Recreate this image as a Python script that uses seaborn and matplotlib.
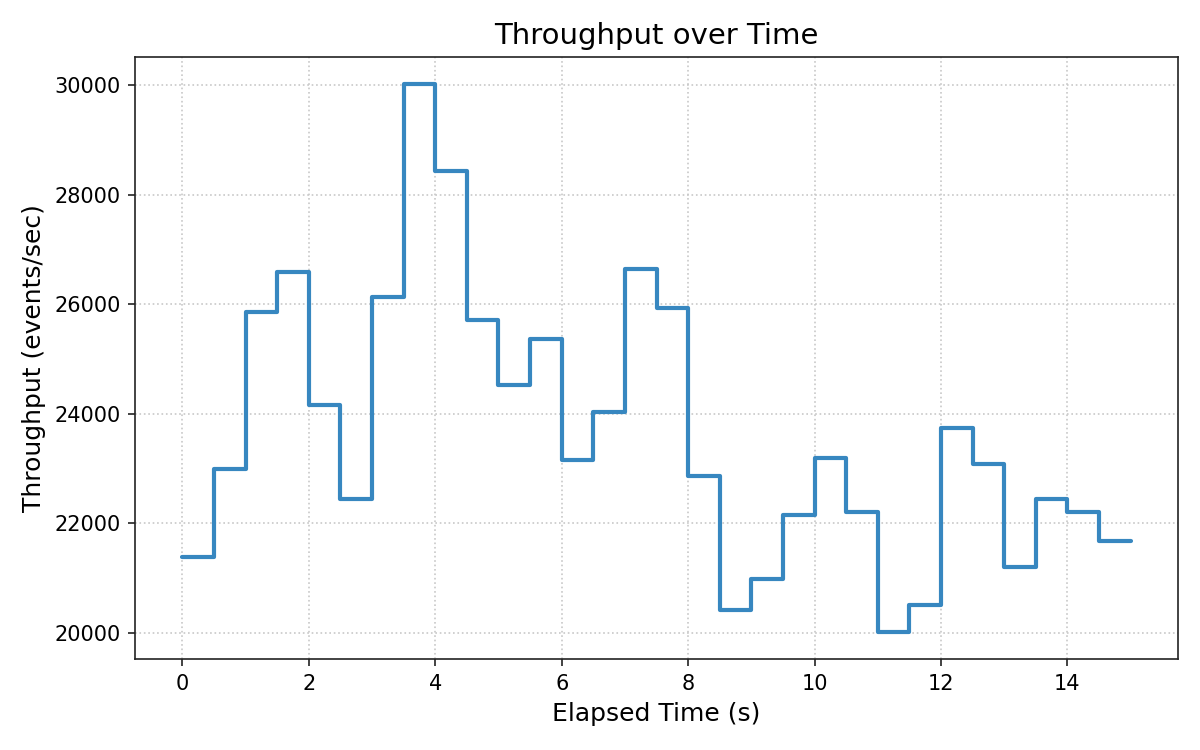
import numpy as np
import pandas as pd
import matplotlib
matplotlib.use("Agg")
import matplotlib.pyplot as plt
import seaborn as sns

# elapsed time in seconds (one sample every half second, last value held to 15 s)
elapsed_time = [0.0, 0.5, 1.0, 1.5, 2.0, 2.5, 3.0, 3.5, 4.0, 4.5,
                5.0, 5.5, 6.0, 6.5, 7.0, 7.5, 8.0, 8.5, 9.0, 9.5,
                10.0, 10.5, 11.0, 11.5, 12.0, 12.5, 13.0, 13.5, 14.0, 14.5, 15.0]

# throughput in events/sec
throughput = [21380, 23000, 25860, 26590, 24160, 22450, 26140, 30020, 28440, 25710,
              24520, 25370, 23150, 24030, 26650, 25930, 22860, 20420, 20990, 22160,
              23190, 22200, 20020, 20500, 23740, 23080, 21210, 22450, 22200, 21680, 21680]

x_ticks = [0, 2, 4, 6, 8, 10, 12, 14]

df = pd.DataFrame({"Elapsed Time (s)": elapsed_time,
                   "Throughput (events/sec)": throughput})

sns.set_theme(style="ticks")
plt.rcParams["font.family"] = ["DejaVu Sans"]
plt.rcParams["axes.edgecolor"] = "#222222"
plt.rcParams["axes.linewidth"] = 0.8

fig, ax = plt.subplots(figsize=(8, 5), dpi=150)

sns.lineplot(
    data=df,
    x="Elapsed Time (s)",
    y="Throughput (events/sec)",
    drawstyle="steps-post",
    color="#3787c0",
    linewidth=2,
    ax=ax)

ax.set_xticks(x_ticks)
ax.grid(True, linestyle=":", color="#c8c8c8", linewidth=0.8)
ax.tick_params(axis="both", labelsize=10, length=3.5, width=0.8, pad=3.5,
               colors="#222222", labelcolor="black")

ax.set_title("Throughput over Time", fontsize=14, color="black")
ax.set_xlabel("Elapsed Time (s)", fontsize=12, color="black")
ax.set_ylabel("Throughput (events/sec)", fontsize=12, color="black")

fig.subplots_adjust(left=0.1125, right=0.9817, top=0.924, bottom=0.1213)
plt.savefig("out.png", dpi=150)
